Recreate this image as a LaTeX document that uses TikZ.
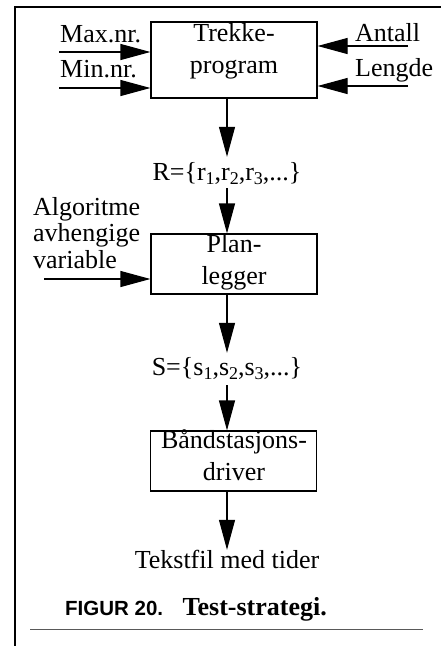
\documentclass[tikz,border=0pt]{standalone}
\usepackage{fontspec}
\setmainfont{Liberation Serif}
\newfontfamily\capfont{Liberation Sans}
\usetikzlibrary{arrows.meta}
\newcommand\lowsub[1]{\raisebox{-4pt}{\fontsize{18}{18}\selectfont #1}}
\begin{document}
\begin{tikzpicture}[x=1pt,y=-1pt,
  every node/.style={inner sep=0pt, font=\fontsize{26}{32}\selectfont},
  box/.style={draw, line width=1.2pt, minimum width=166pt, minimum height=#1},
  arr/.style={line width=1.2pt, -{Triangle[length=30pt,width=16pt]}},
  frame/.style={line width=2pt},
  rule/.style={line width=1pt, black!65}
]
\useasboundingbox (0,0) rectangle (441,646);
% frame
\coordinate (fa) at (441,7);
\coordinate (fb) at (15,7);
\coordinate (fc) at (15,646);
\draw[frame] (fa) -- (fb) -- (fc);

% boxes
\node[box=76pt] (b1) at (234,60) {};
\node[box=60pt] (b2) at (234,264) {};
\node[box=60pt] (b3) at (233.5,461) {};

\node[anchor=base] (b1t) at (234,41) {\begin{tabular}[t]{@{}c@{}}Trekke-\\program\end{tabular}};
\node[anchor=base] (b2t) at (234,252) {\begin{tabular}[t]{@{}c@{}}Plan-\\legger\end{tabular}};
\node[anchor=base] (b3t) at (234,448) {\begin{tabular}[t]{@{}c@{}}Båndstasjons-\\driver\end{tabular}};

% side labels
\node[anchor=base west] (maxl) at (60,42) {Max.nr.};
\node[anchor=base west] (minl) at (60,77) {Min.nr.};
\node[anchor=base west] (antl) at (355,41) {Antall};
\node[anchor=base west] (lenl) at (355,76) {Lengde};
\node[anchor=base west] (alg) at (33,215) {\fontsize{26}{26.5}\selectfont\begin{tabular}[t]{@{}l@{}}Algoritme\\avhengige\\variable\end{tabular}};

% set labels
\node[anchor=base, text height=23pt, text depth=8pt] (R) at (227,180) {R=\{r\lowsub{1},r\lowsub{2},r\lowsub{3},...\}};
\node[anchor=base, text height=22pt, text depth=10pt] (S) at (227,375) {S=\{s\lowsub{1},s\lowsub{2},s\lowsub{3},...\}};
\node[anchor=base, text height=18pt, text depth=6pt] (T) at (227,568) {Tekstfil med tider};

% side arrows
\coordinate (maxs) at (59,52);
\coordinate (mins) at (59,88);
\coordinate (ants) at (408,46);
\coordinate (lens) at (408,86);
\coordinate (algs) at (44,279);
\draw[arr] (maxs) -- (maxs -| b1.west);
\draw[arr] (mins) -- (mins -| b1.west);
\draw[arr] (ants) -- (ants -| b1.east);
\draw[arr] (lens) -- (lens -| b1.east);
\draw[arr] (algs) -- (algs -| b2.west);

% vertical flow
\draw[arr] (R.north |- b1.south) -- (R.north);
\draw[arr] (R.south) -- (R.south |- b2.north);
\draw[arr] (S.north |- b2.south) -- (S.north);
\draw[arr] (S.south) -- (S.south |- b3.north);
\draw[arr] (T.north |- b3.south) -- (T.north);

% caption
\node[anchor=base west, font=\capfont\fontsize{20.5}{24}\selectfont\bfseries] (fig) at (65,615) {FIGUR 20.};
\node[anchor=base east, font=\fontsize{26}{32}\selectfont\bfseries] (cap) at (327,615) {Test-strategi.};
\coordinate (ra) at (30,629);
\coordinate (rb) at (423,629);
\draw[rule] (ra) -- (rb);
\end{tikzpicture}
\end{document}
